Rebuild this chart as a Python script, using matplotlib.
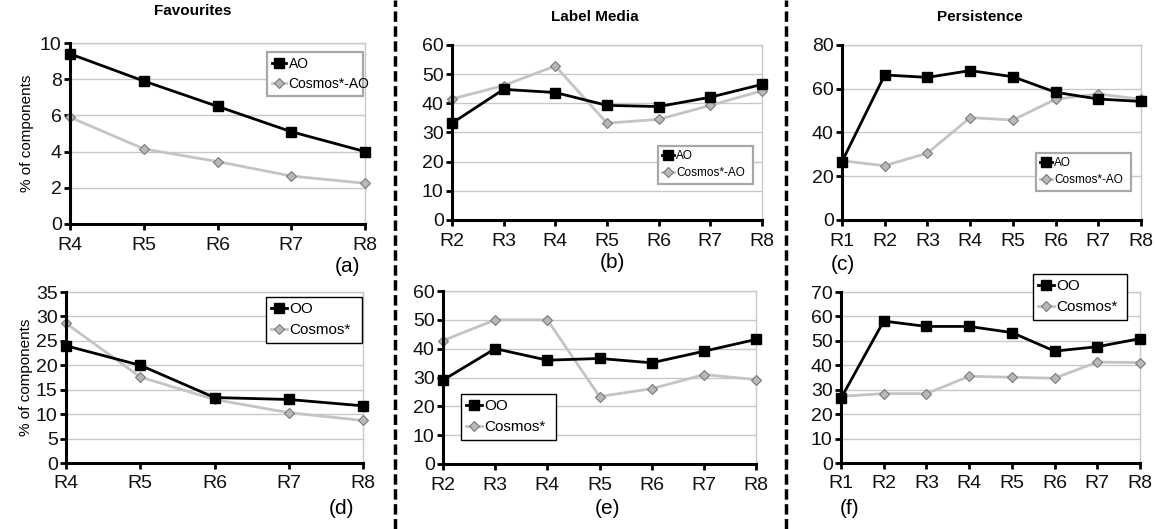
import matplotlib.pyplot as plt
from matplotlib.lines import Line2D

plt.rcParams['font.family'] = ['Liberation Sans', 'DejaVu Sans']

W, H = 1156, 529

# data
rel_a = ['R4', 'R5', 'R6', 'R7', 'R8']
fav_ao = [9.4, 7.9, 6.5, 5.1, 4.0]
fav_cao = [5.9, 4.15, 3.45, 2.65, 2.25]

rel_b = ['R2', 'R3', 'R4', 'R5', 'R6', 'R7', 'R8']
lab_ao = [33.2, 44.8, 43.7, 39.3, 38.9, 42.1, 46.5]
lab_cao = [41.5, 46.1, 52.8, 33.2, 34.5, 39.3, 44.3]

rel_c = ['R1', 'R2', 'R3', 'R4', 'R5', 'R6', 'R7', 'R8']
per_ao = [26.7, 66.3, 65.2, 68.3, 65.5, 58.4, 55.3, 54.2]
per_cao = [27.1, 24.8, 30.6, 46.8, 45.7, 55.2, 57.6, 55.2]

fav_oo = [24.0, 20.0, 13.4, 13.0, 11.7]
fav_cos = [28.6, 17.6, 13.0, 10.3, 8.7]

lab_oo = [29.1, 40.0, 36.0, 36.6, 35.1, 39.1, 43.2]
lab_cos = [42.8, 50.0, 50.0, 23.4, 26.1, 31.0, 29.3]

per_oo = [26.5, 58.1, 55.9, 55.9, 53.4, 45.8, 47.6, 50.9]
per_cos = [27.3, 28.4, 28.4, 35.5, 35.1, 34.7, 41.3, 41.1]


def panel(fig, box, cats, s1, s2, names, ymax, ystep, leg_box, leg_edge, leg_fs):
    l, r, t, b = box
    ax = fig.add_axes([l / W, 1 - b / H, (r - l) / W, (b - t) / H])
    x = range(len(cats))
    h2, = ax.plot(x, s2, color='#c4c4c4', lw=2, marker='D', ms=5.5,
                  mfc='#b8b8b8', mec='#7a7a7a', mew=0.8, zorder=3, clip_on=False)
    h1, = ax.plot(x, s1, color='black', lw=2, marker='s', ms=7.5,
                  mfc='black', mec='black', zorder=4, clip_on=False)
    ax.set_xlim(0, len(cats) - 1)
    ax.set_ylim(0, ymax)
    ax.set_yticks(range(0, ymax + 1, ystep))
    ax.set_xticks(list(x))
    ax.set_xticklabels(cats)
    ax.tick_params(labelsize=14, length=4, width=2, colors='black',
                   labelcolor='#111111', pad=2)
    ax.tick_params(axis='x', pad=5)
    ax.grid(axis='y', color='#c8c8c8', lw=1)
    ax.set_axisbelow(True)
    for s in ['left', 'bottom']:
        ax.spines[s].set_linewidth(2.2)
        ax.spines[s].set_zorder(5)
    for s in ['right', 'top']:
        ax.spines[s].set_color('#c8c8c8')
        ax.spines[s].set_linewidth(1)
    ll, lr, lt, lb = leg_box
    leg = ax.legend([h1, h2], names, loc='upper left',
                    bbox_to_anchor=(ll / W, 1 - lb / H, (lr - ll) / W, (lb - lt) / H),
                    bbox_transform=fig.transFigure, mode='expand',
                    fontsize=leg_fs, handlelength=1.0, handletextpad=0.2,
                    borderaxespad=0, borderpad=0.35, labelspacing=0.45,
                    fancybox=False, framealpha=1, edgecolor=leg_edge)
    leg.get_frame().set_linewidth(1.6 if leg_edge != 'black' else 1.0)
    leg.set_zorder(6)
    return ax


fig = plt.figure(figsize=(W / 100, H / 100), dpi=100)

ax = panel(fig, (70, 365, 43, 224), rel_a, fav_ao, fav_cao, ['AO', 'Cosmos*-AO'],
           10, 2, (267, 363, 52, 95), '#a8a8a8', 10)
ax.set_ylabel('% of components', fontsize=11, labelpad=4)
panel(fig, (452, 762, 45, 220), rel_b, lab_ao, lab_cao, ['AO', 'Cosmos*-AO'],
      60, 10, (658, 753, 146, 192), '#a8a8a8', 8.5)
panel(fig, (842, 1141, 45, 220), rel_c, per_ao, per_cao, ['AO', 'Cosmos*-AO'],
      80, 20, (1036, 1131, 153, 195), '#a8a8a8', 8.5)
ax = panel(fig, (66, 363, 292, 463), rel_a, fav_oo, fav_cos, ['OO', 'Cosmos*'],
           35, 5, (266, 362, 297, 348), 'black', 11)
ax.set_ylabel('% of components', fontsize=11, labelpad=2)
panel(fig, (443, 756, 291, 464), rel_b, lab_oo, lab_cos, ['OO', 'Cosmos*'],
      60, 10, (461, 556, 394, 448), 'black', 11)
panel(fig, (841, 1140, 292, 463), rel_c, per_oo, per_cos, ['OO', 'Cosmos*'],
      70, 10, (1033, 1127, 274, 330), 'black', 11)

# panel titles
for txt, xc, yb in [('Favourites', 193, 15), ('Label Media', 595, 21), ('Persistence', 980, 21)]:
    fig.text(xc / W, 1 - yb / H, txt, fontsize=11, fontweight='bold',
             ha='center', va='baseline')

# panel letters
for txt, xc, yc in [('(a)', 348, 266), ('(b)', 612, 263), ('(c)', 843, 264),
                    ('(d)', 342, 509), ('(e)', 607, 509), ('(f)', 850, 509)]:
    fig.text(xc / W, 1 - yc / H, txt, fontsize=15, ha='center', va='center')

# dashed separators
for xs in [395, 786]:
    fig.add_artist(Line2D([xs / W, xs / W], [0, 1], transform=fig.transFigure,
                          color='black', lw=2.5, ls=(0, (3, 1.3))))

fig.savefig('out.png', dpi=100)
